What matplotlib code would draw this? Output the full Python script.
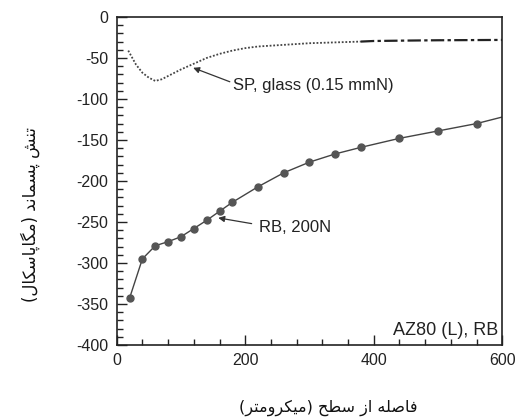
import numpy as np
import matplotlib
matplotlib.use('Agg')
import matplotlib.pyplot as plt
from matplotlib.ticker import MultipleLocator

# datos
rb_x = [20, 40, 60, 80, 100, 120, 140, 160, 180, 220, 260, 300, 340, 380, 440, 500, 560, 600]
rb_y = [-343, -295, -279, -274, -268, -258, -248, -237, -226, -207, -190, -177, -167, -159, -148, -139, -130, -122]

sp_x = [18, 30, 40, 50, 60, 70, 80, 100, 120, 140, 160, 180, 200, 220, 260, 300, 340, 380]
sp_y = [-41, -58, -68, -74, -78, -76, -72, -64, -57, -50, -45, -41, -38, -36, -34, -32, -31, -30]
sp2_x = [380, 400, 450, 500, 550, 600]
sp2_y = [-30, -29.3, -28.8, -28.4, -28.2, -28]

x_ticks = [0, 200, 400, 600]
y_ticks = [0, -50, -100, -150, -200, -250, -300, -350, -400]

ylabel_fa = 'تنش پسماند (مگاپاسکال)'
xlabel_fa = 'فاصله از سطح (میکرومتر)'

# formas de presentacion arabes (aislada, final, inicial, media)
FORMS = {
    'ا': ('\uFE8D', '\uFE8E', None, None),
    'ت': ('\uFE95', '\uFE96', '\uFE97', '\uFE98'),
    'ح': ('\uFEA1', '\uFEA2', '\uFEA3', '\uFEA4'),
    'د': ('\uFEA9', '\uFEAA', None, None),
    'ر': ('\uFEAD', '\uFEAE', None, None),
    'ز': ('\uFEAF', '\uFEB0', None, None),
    'س': ('\uFEB1', '\uFEB2', '\uFEB3', '\uFEB4'),
    'ش': ('\uFEB5', '\uFEB6', '\uFEB7', '\uFEB8'),
    'ص': ('\uFEB9', '\uFEBA', '\uFEBB', '\uFEBC'),
    'ط': ('\uFEC1', '\uFEC2', '\uFEC3', '\uFEC4'),
    'ف': ('\uFED1', '\uFED2', '\uFED3', '\uFED4'),
    'ل': ('\uFEDD', '\uFEDE', '\uFEDF', '\uFEE0'),
    'م': ('\uFEE1', '\uFEE2', '\uFEE3', '\uFEE4'),
    'ن': ('\uFEE5', '\uFEE6', '\uFEE7', '\uFEE8'),
    'ه': ('\uFEE9', '\uFEEA', '\uFEEB', '\uFEEC'),
    'و': ('\uFEED', '\uFEEE', None, None),
    'پ': ('\uFB56', '\uFB57', '\uFB58', '\uFB59'),
    'ک': ('\uFB8E', '\uFB8F', '\uFB90', '\uFB91'),
    'گ': ('\uFB92', '\uFB93', '\uFB94', '\uFB95'),
    'ی': ('\uFBFC', '\uFBFD', '\uFBFE', '\uFBFF'),
}


def shape(s):
    out = []
    for i, c in enumerate(s):
        if c not in FORMS:
            out.append(c)
            continue
        iso, fin, ini, med = FORMS[c]
        p = s[i - 1] if i > 0 else ''
        n = s[i + 1] if i + 1 < len(s) else ''
        jp = p in FORMS and FORMS[p][2] is not None
        jn = n in FORMS and ini is not None
        if jp and jn:
            out.append(med)
        elif jp:
            out.append(fin)
        elif jn:
            out.append(ini)
        else:
            out.append(iso)
    vis = ''.join(reversed(out))
    return vis.translate(str.maketrans('()', ')('))


plt.rcParams['font.family'] = ['Liberation Sans', 'DejaVu Sans']
plt.rcParams['axes.unicode_minus'] = False

fig = plt.figure(figsize=(5.23, 4.2), dpi=100)
ax = fig.add_axes([0.2231, 0.1786, 0.7373, 0.781])

ax.plot(sp_x, sp_y, color='#444444', lw=1.3, linestyle=(0, (1, 1)))
ax.plot(sp2_x, sp2_y, color='#222222', lw=1.6, linestyle=(0, (6, 1.5, 1.5, 1.5)))

ax.plot(rb_x, rb_y, color='#444444', lw=1.0, marker='o', markersize=5,
        markerfacecolor='#555555', markeredgecolor='#555555',
        markevery=list(range(len(rb_x) - 1)))

ax.set_xlim(0, 600)
ax.set_ylim(-400, 0)
ax.set_xticks(x_ticks)
ax.set_yticks(y_ticks)
ax.xaxis.set_minor_locator(MultipleLocator(40))
ax.yaxis.set_minor_locator(MultipleLocator(10))
ax.tick_params(which='both', direction='in', top=False, right=False,
               labelsize=11.5, colors='#222222', width=1.0)
ax.tick_params(which='major', length=7, pad=6)
ax.tick_params(which='minor', length=4)
for sp in ax.spines.values():
    sp.set_linewidth(1.2)
    sp.set_color('#222222')

arrow = dict(arrowstyle='-|>', color='#333333', lw=0.9, mutation_scale=9,
             shrinkA=0, shrinkB=0)
ax.annotate('', xy=(119, -62), xytext=(176, -79), arrowprops=arrow)
ax.text(181, -83, 'SP, glass (0.15 mmN)', fontsize=12, va='center', ha='left', color='#222222')
ax.annotate('', xy=(158, -245), xytext=(210, -252), arrowprops=arrow)
ax.text(221, -257, 'RB, 200N', fontsize=12, va='center', ha='left', color='#222222')
ax.text(593, -382, 'AZ80 (L), RB', fontsize=13, va='center', ha='right', color='#222222')

fig.text(30 / 523, 1 - 215 / 420, shape(ylabel_fa), rotation=90, fontsize=12,
         family='DejaVu Sans', ha='center', va='center', color='#111111')
fig.text(328 / 523, 1 - 408 / 420, shape(xlabel_fa), fontsize=11.5,
         family='DejaVu Sans', ha='center', va='center', color='#111111')

fig.savefig('out.png', dpi=100)
